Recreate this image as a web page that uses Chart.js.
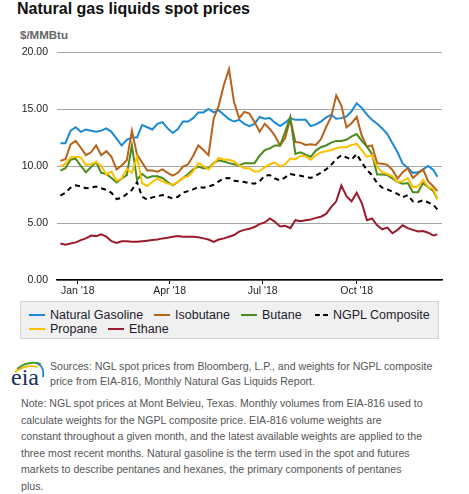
<!DOCTYPE html>
<html><head><meta charset="utf-8">
<script src="https://cdn.jsdelivr.net/npm/chart.js@4.4.1/dist/chart.umd.min.js"></script>
<style>
html,body{margin:0;padding:0;background:#fff;}
body{width:469px;height:494px;position:relative;overflow:hidden;font-family:"Liberation Sans",Arial,sans-serif;}
#title{position:absolute;left:17px;top:-1px;font-size:16px;font-weight:bold;color:#111;line-height:20px;white-space:nowrap;}
#units{position:absolute;left:20px;top:28px;font-size:11.5px;font-weight:bold;color:#666;line-height:14px;}
#wrap{position:absolute;left:0;top:0;width:469px;height:300px;}
#legend{position:absolute;left:20px;top:301px;width:417px;height:36px;background:#f0f0f0;border:1px solid #d4d4d4;}
.li{position:absolute;font-size:12.5px;color:#1c1c2c;line-height:14px;white-space:nowrap;}
.sw{position:absolute;height:0;width:16px;}
#src{position:absolute;left:50px;top:359px;font-size:10.6px;color:#555;line-height:15px;white-space:nowrap;}
#note{position:absolute;left:21px;top:395px;font-size:10.6px;color:#555;line-height:16.6px;white-space:nowrap;}
</style></head>
<body>
<div id="title">Natural gas liquids spot prices</div>
<div id="units">$/MMBtu</div>
<div id="wrap"><canvas id="c" width="469" height="300" style="width:469px;height:300px"></canvas></div>
<div id="legend"></div>
<svg width="36" height="34" style="position:absolute;left:10px;top:354px" xmlns="http://www.w3.org/2000/svg">
 <path d="M7 15 Q18 6 31 10" stroke="#4a9a2a" stroke-width="1.8" fill="none"/>
 <path d="M5 18 Q16 10 28 13" stroke="#f2b705" stroke-width="1.8" fill="none"/>
 <path d="M26 9 Q35 12 33 23" stroke="#1b7fc4" stroke-width="1.8" fill="none"/>
 <text x="1" y="31" font-family="Liberation Serif, serif" font-size="24" fill="#1b2f5c">eia</text>
</svg>
<div id="src">Sources: NGL spot prices from Bloomberg, L.P., and weights for NGPL composite<br>price from EIA-816, Monthly Natural Gas Liquids Report.</div>
<div id="note">Note: NGL spot prices at Mont Belvieu, Texas. Monthly volumes from EIA-816 used to<br>calculate weights for the NGPL composite price. EIA-816 volume weights are<br>constant throughout a given month, and the latest available weights are applied to the<br>three most recent months. Natural gasoline is the term used in the spot and futures<br>markets to describe pentanes and hexanes, the primary components of pentanes<br>plus.</div>
<script>
// days since 2018-01-01
const days = [-17,-12,-7,-2,3,8,13,18,23,28,33,38,43,48,53,58,63,68,73,78,83,88,93,98,103,108,113,118,123,128,133,138,143,148,153,158,163,168,173,178,183,188,193,198,203,208,213,218,223,228,233,238,243,248,253,258,263,268,273,278,283,288,293,298,303,308,313,318,323,328,333,338,343,348,352];

const naturalGasoline = [12.0,12.0,13.1,13.4,13.0,13.2,13.1,13.0,13.1,13.3,13.0,12.4,11.8,12.3,12.5,12.5,13.6,13.4,13.2,13.7,13.85,13.3,12.9,13.25,13.9,13.9,14.2,14.7,14.7,15.0,14.7,14.9,14.5,14.1,13.9,14.05,13.7,13.5,13.7,14.3,14.15,14.2,13.8,13.5,13.8,14.2,14.05,14.05,14.05,13.5,13.65,13.9,14.25,14.5,14.15,14.2,14.35,14.8,15.5,15.1,14.5,14.05,13.7,13.3,12.8,12.0,11.2,10.2,9.85,9.4,9.45,9.7,10.0,9.65,9.05];

const isobutane = [10.45,10.6,11.9,12.2,11.6,10.95,11.2,11.8,10.95,11.3,10.8,9.7,10.05,10.5,13.1,11.0,10.3,9.6,9.6,9.5,9.7,9.4,9.15,9.4,9.95,10.15,10.9,11.8,11.4,10.95,14.15,15.3,17.1,18.5,15.6,14.2,14.75,14.6,13.85,13.0,13.7,13.25,12.65,11.8,12.45,14.15,12.1,12.05,11.85,11.9,11.85,12.35,13.4,14.3,16.2,15.3,13.4,13.75,14.3,12.65,11.7,11.8,10.25,10.2,10.1,9.65,8.9,9.45,9.8,8.95,9.35,9.7,8.65,8.2,7.8];

const butane = [9.6,9.8,10.55,10.65,10.0,9.45,9.9,10.35,9.4,9.3,8.95,8.55,8.9,9.2,11.8,8.8,9.3,8.95,9.1,9.1,8.95,8.6,8.3,8.6,8.95,9.3,9.7,9.95,9.8,9.8,10.25,10.5,10.4,10.25,10.15,10.05,10.25,10.25,10.25,10.9,11.4,11.55,11.8,11.8,13.0,14.3,11.05,11.2,11.0,10.8,11.35,11.65,11.8,12.05,12.2,12.2,12.3,12.6,12.8,12.2,11.7,11.05,9.25,9.25,9.2,8.9,8.6,8.45,8.5,7.7,7.7,8.5,8.15,7.8,7.1];

const ngplComposite = [7.4,7.65,8.1,8.3,8.2,8.05,8.1,8.2,8.05,7.9,7.65,7.1,7.2,7.55,7.9,8.6,7.3,7.05,7.25,7.35,7.45,7.3,7.15,7.3,7.65,7.8,7.95,8.15,8.1,8.2,8.35,8.65,8.9,8.95,8.7,8.65,8.6,8.5,8.45,8.65,9.15,9.2,8.9,8.75,9.0,9.3,9.2,9.15,9.05,8.95,9.15,9.4,9.7,10.1,10.6,10.95,10.75,10.55,11.05,10.3,9.65,9.2,8.5,8.1,7.95,7.75,7.55,7.25,7.45,6.9,6.85,7.0,6.8,6.6,6.2];

const propane = [9.95,10.2,10.75,10.8,10.75,10.1,10.15,10.35,10.0,9.25,9.5,8.7,8.9,9.75,9.4,10.8,8.5,8.25,8.6,8.9,8.65,8.45,8.35,8.6,8.95,9.1,9.55,10.25,10.0,9.7,10.2,10.7,10.55,10.55,10.4,10.05,9.8,9.8,9.5,9.55,9.9,10.15,10.3,9.95,10.15,10.65,10.6,10.9,10.85,10.55,10.95,11.2,11.3,11.4,11.55,11.65,11.65,11.85,11.95,11.4,10.8,10.95,9.95,9.45,9.3,9.1,8.6,8.65,8.95,8.15,8.2,8.8,8.15,8.0,7.1];

const ethane = [3.2,3.1,3.2,3.3,3.5,3.65,3.9,3.85,4.0,3.8,3.4,3.25,3.4,3.4,3.35,3.35,3.4,3.45,3.5,3.55,3.65,3.7,3.8,3.85,3.8,3.8,3.8,3.75,3.65,3.55,3.35,3.55,3.65,3.8,3.95,4.25,4.4,4.5,4.65,4.9,5.05,5.4,5.1,4.7,4.75,4.55,5.25,5.15,5.25,5.3,5.45,5.55,5.8,6.4,6.9,8.3,7.35,6.9,7.65,6.75,5.25,5.4,4.8,4.45,4.6,4.1,4.4,4.8,4.55,4.4,4.25,4.3,4.15,3.9,4.0];

const seriesNames = ["Natural Gasoline","Isobutane","Butane","NGPL Composite","Propane","Ethane"];
const seriesColors = ["#1a8ad4","#b8621c","#4b8b1d","#000000","#fdc000","#9a1b2b"];
const seriesValues = [naturalGasoline,isobutane,butane,ngplComposite,propane,ethane];

const xTickDays = [0,90,181,273];
const xTickLabels = ["Jan '18","Apr '18","Jul '18","Oct '18"];
const yTickValues = [0,5,10,15,20];

const drawOrder = [5,4,2,3,1,0]; // lower = drawn on top
const datasets = seriesNames.map((name,i)=>({
  label:name,
  data: days.map((d,j)=>({x:d,y:seriesValues[i][j]})),
  borderColor: seriesColors[i],
  backgroundColor: seriesColors[i],
  borderWidth: 2,
  borderDash: name==="NGPL Composite" ? [5,4] : [],
  pointRadius: 0,
  tension: 0,
  fill: false,
  order: drawOrder[i]
}));

new Chart(document.getElementById('c'), {
  type:'line',
  data:{datasets},
  options:{
    responsive:false, animation:false, devicePixelRatio:1,
    layout:{padding:{left:0,right:27,top:52,bottom:0}},
    plugins:{legend:{display:false},tooltip:{enabled:false}},
    scales:{
      x:{
        type:'linear', min:-20.3, max:356.5,
        afterBuildTicks:s=>{s.ticks = xTickDays.map(v=>({value:v}));},
        ticks:{callback:v=>xTickLabels[xTickDays.indexOf(v)], font:{size:10.5,family:'"Liberation Sans",Arial,sans-serif'}, color:'#222', padding:1, maxRotation:0, autoSkip:false},
        grid:{drawOnChartArea:false, drawTicks:true, tickLength:4, color:'#000', lineWidth:1},
        border:{color:'#000', width:1.5},
        afterFit:s=>{s.height=20;}
      },
      y:{
        min:0, max:20,
        afterBuildTicks:s=>{s.ticks = yTickValues.map(v=>({value:v}));},
        ticks:{callback:v=>Number(v).toFixed(2), font:{size:10.5,family:'"Liberation Sans",Arial,sans-serif'}, color:'#222', padding:9},
        grid:{color:'#a6a6a6', lineWidth:1, drawTicks:false},
        border:{display:false},
        afterFit:s=>{s.width=57;}
      }
    }
  }
});

// legend (HTML)
const legendPos = [[8,13],[133,13],[220,13],[291,13],[8,27],[87,27]];
const lg = document.getElementById('legend');
seriesNames.forEach((name,i)=>{
  const [lx,ly] = legendPos[i];
  const sw = document.createElement('div');
  sw.className='sw';
  sw.style.left = lx+'px';
  sw.style.top = (ly-1)+'px';
  sw.style.borderTop = (name==="NGPL Composite" ? '2.5px dashed ' : '2.5px solid ') + seriesColors[i];
  if (name==="NGPL Composite") { sw.style.width='13px'; sw.style.left=(lx+3)+'px'; }
  lg.appendChild(sw);
  const t = document.createElement('div');
  t.className='li';
  t.textContent = name;
  t.style.left = (lx+21)+'px';
  t.style.top = (ly-7)+'px';
  lg.appendChild(t);
});
</script>
</body></html>
